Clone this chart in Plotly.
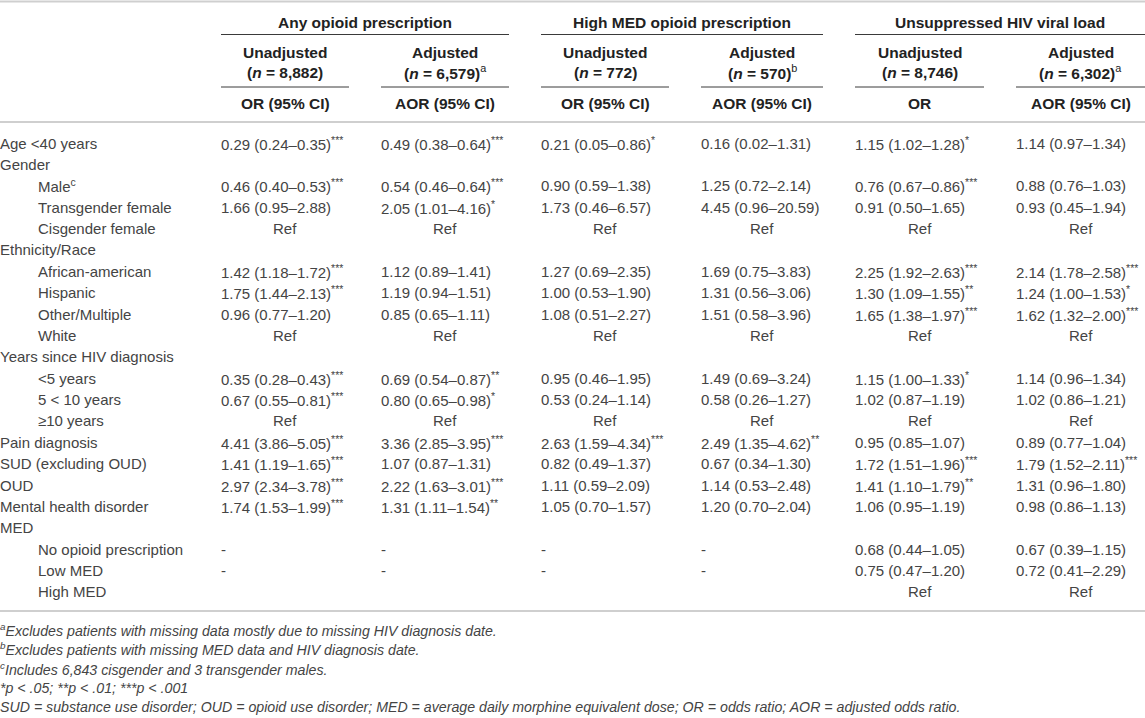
import plotly.graph_objects as go

# ---- table content ----
group_titles = ["Any opioid prescription", "High MED opioid prescription", "Unsuppressed HIV viral load"]
sub_titles = ["Unadjusted", "Adjusted", "Unadjusted", "Adjusted", "Unadjusted", "Adjusted"]
sample_sizes = ["8,882", "6,579", "772", "570", "8,746", "6,302"]
size_notes = ["", "a", "", "b", "", "a"]
stat_labels = ["OR (95% CI)", "AOR (95% CI)", "OR (95% CI)", "AOR (95% CI)", "OR", "AOR (95% CI)"]

row_labels = [
    "Age <40 years", "Gender", "Male", "Transgender female", "Cisgender female",
    "Ethnicity/Race", "African-american", "Hispanic", "Other/Multiple", "White",
    "Years since HIV diagnosis", "<5 years", "5 < 10 years", "≥10 years",
    "Pain diagnosis", "SUD (excluding OUD)", "OUD", "Mental health disorder",
    "MED", "No opioid prescription", "Low MED", "High MED",
]
sub_rows = [
    "Male", "Transgender female", "Cisgender female",
    "African-american", "Hispanic", "Other/Multiple", "White",
    "<5 years", "5 < 10 years", "≥10 years",
    "No opioid prescription", "Low MED", "High MED",
]
label_notes = {"Male": "c"}

any_unadj = [
    "0.29 (0.24–0.35)***", "", "0.46 (0.40–0.53)***", "1.66 (0.95–2.88)", "Ref",
    "", "1.42 (1.18–1.72)***", "1.75 (1.44–2.13)***", "0.96 (0.77–1.20)", "Ref",
    "", "0.35 (0.28–0.43)***", "0.67 (0.55–0.81)***", "Ref",
    "4.41 (3.86–5.05)***", "1.41 (1.19–1.65)***", "2.97 (2.34–3.78)***", "1.74 (1.53–1.99)***",
    "", "-", "-", "",
]
any_adj = [
    "0.49 (0.38–0.64)***", "", "0.54 (0.46–0.64)***", "2.05 (1.01–4.16)*", "Ref",
    "", "1.12 (0.89–1.41)", "1.19 (0.94–1.51)", "0.85 (0.65–1.11)", "Ref",
    "", "0.69 (0.54–0.87)**", "0.80 (0.65–0.98)*", "Ref",
    "3.36 (2.85–3.95)***", "1.07 (0.87–1.31)", "2.22 (1.63–3.01)***", "1.31 (1.11–1.54)**",
    "", "-", "-", "",
]
high_unadj = [
    "0.21 (0.05–0.86)*", "", "0.90 (0.59–1.38)", "1.73 (0.46–6.57)", "Ref",
    "", "1.27 (0.69–2.35)", "1.00 (0.53–1.90)", "1.08 (0.51–2.27)", "Ref",
    "", "0.95 (0.46–1.95)", "0.53 (0.24–1.14)", "Ref",
    "2.63 (1.59–4.34)***", "0.82 (0.49–1.37)", "1.11 (0.59–2.09)", "1.05 (0.70–1.57)",
    "", "-", "-", "",
]
high_adj = [
    "0.16 (0.02–1.31)", "", "1.25 (0.72–2.14)", "4.45 (0.96–20.59)", "Ref",
    "", "1.69 (0.75–3.83)", "1.31 (0.56–3.06)", "1.51 (0.58–3.96)", "Ref",
    "", "1.49 (0.69–3.24)", "0.58 (0.26–1.27)", "Ref",
    "2.49 (1.35–4.62)**", "0.67 (0.34–1.30)", "1.14 (0.53–2.48)", "1.20 (0.70–2.04)",
    "", "-", "-", "",
]
vl_unadj = [
    "1.15 (1.02–1.28)*", "", "0.76 (0.67–0.86)***", "0.91 (0.50–1.65)", "Ref",
    "", "2.25 (1.92–2.63)***", "1.30 (1.09–1.55)**", "1.65 (1.38–1.97)***", "Ref",
    "", "1.15 (1.00–1.33)*", "1.02 (0.87–1.19)", "Ref",
    "0.95 (0.85–1.07)", "1.72 (1.51–1.96)***", "1.41 (1.10–1.79)**", "1.06 (0.95–1.19)",
    "", "0.68 (0.44–1.05)", "0.75 (0.47–1.20)", "Ref",
]
vl_adj = [
    "1.14 (0.97–1.34)", "", "0.88 (0.76–1.03)", "0.93 (0.45–1.94)", "Ref",
    "", "2.14 (1.78–2.58)***", "1.24 (1.00–1.53)*", "1.62 (1.32–2.00)***", "Ref",
    "", "1.14 (0.96–1.34)", "1.02 (0.86–1.21)", "Ref",
    "0.89 (0.77–1.04)", "1.79 (1.52–2.11)***", "1.31 (0.96–1.80)", "0.98 (0.86–1.13)",
    "", "0.67 (0.39–1.15)", "0.72 (0.41–2.29)", "Ref",
]
columns = [any_unadj, any_adj, high_unadj, high_adj, vl_unadj, vl_adj]

footnotes = [
    ("a", "Excludes patients with missing data mostly due to missing HIV diagnosis date."),
    ("b", "Excludes patients with missing MED data and HIV diagnosis date."),
    ("c", "Includes 6,843 cisgender and 3 transgender males."),
    ("", "*p < .05; **p < .01; ***p < .001"),
    ("", "SUD = substance use disorder; OUD = opioid use disorder; MED = average daily morphine equivalent dose; OR = odds ratio; AOR = adjusted odds ratio."),
]

# ---- layout (page units on the axes) ----
W, H = 1145, 718
col_left = [221, 381, 541, 701, 855, 1016]
col_right = [349, 509, 669, 823, 984, 1145]
indent = 38
y_group, y_group_line = 22, 34.5
y_sub, y_n, y_sub_line, y_stat = 52, 72, 87, 103
y_top, y_head_rule, y_bottom = 1.5, 122, 611
row_y0, row_step = 143, 21.38
foot_y0, foot_step = 630, 19.3

FONT = "Liberation Sans, Arial, Helvetica, sans-serif"
BODY = "#444444"
HEAD = "#222222"
RULE_LIGHT = "#cfcfcf"
RULE_DARK = "#3a3a3a"


def esc(s):
    return s.replace("<", "&lt;").replace(">", "&gt;")


def cell_html(s):
    stars = len(s) - len(s.rstrip("*"))
    core = esc(s.rstrip("*"))
    return core + (f"<sup>{'*' * stars}</sup>" if stars else "")


def italic_p(s):
    return esc(s).replace("p &lt;", "<i>p</i> &lt;")


fig = go.Figure()
ann = dict(xref="x", yref="y", showarrow=False, yanchor="middle", borderpad=0, borderwidth=0)

# horizontal rules
for y in (y_top, y_head_rule, y_bottom):
    fig.add_shape(type="line", xref="x", yref="y", x0=0, x1=W, y0=y, y1=y,
                  line=dict(color=RULE_LIGHT, width=2))
for g in range(3):
    fig.add_shape(type="line", xref="x", yref="y", x0=col_left[2 * g], x1=col_right[2 * g + 1],
                  y0=y_group_line, y1=y_group_line, line=dict(color=RULE_DARK, width=1))
for c in range(6):
    fig.add_shape(type="line", xref="x", yref="y", x0=col_left[c], x1=col_right[c],
                  y0=y_sub_line, y1=y_sub_line, line=dict(color=RULE_DARK, width=1))

# header text
head_font = dict(family=FONT, size=15.5, color=HEAD)
for g, title in enumerate(group_titles):
    xc = (col_left[2 * g] + col_right[2 * g + 1]) / 2
    fig.add_annotation(x=xc, y=y_group, text=f"<b>{title}</b>", xanchor="center", font=head_font, **ann)
for c in range(6):
    xc = (col_left[c] + col_right[c]) / 2
    fig.add_annotation(x=xc, y=y_sub, text=f"<b>{sub_titles[c]}</b>", xanchor="center", font=head_font, **ann)
    note = f"<sup>{size_notes[c]}</sup>" if size_notes[c] else ""
    fig.add_annotation(x=xc, y=y_n, text=f"<b>(<i>n</i> = {sample_sizes[c]})</b>{note}",
                       xanchor="center", font=head_font, **ann)
    fig.add_annotation(x=xc, y=y_stat, text=f"<b>{stat_labels[c]}</b>", xanchor="center", font=head_font, **ann)

# body
body_font = dict(family=FONT, size=15, color=BODY)
for r, label in enumerate(row_labels):
    y = row_y0 + r * row_step
    x = indent if label in sub_rows else 0
    txt = esc(label) + (f"<sup>{label_notes[label]}</sup>" if label in label_notes else "")
    fig.add_annotation(x=x, y=y, text=txt, xanchor="left", font=body_font, **ann)
    for c, col in enumerate(columns):
        val = col[r]
        if not val:
            continue
        if val == "Ref":
            fig.add_annotation(x=(col_left[c] + col_right[c]) / 2, y=y, text=val,
                               xanchor="center", font=body_font, **ann)
        else:
            fig.add_annotation(x=col_left[c], y=y, text=cell_html(val),
                               xanchor="left", font=body_font, **ann)

# footnotes
foot_font = dict(family=FONT, size=14.2, color=BODY)
for k, (mark, text) in enumerate(footnotes):
    pre = f"<sup>{mark}</sup>" if mark else ""
    fig.add_annotation(x=0, y=foot_y0 + k * foot_step, text=f"<i>{pre}{italic_p(text)}</i>",
                       xanchor="left", font=foot_font, **ann)

fig.update_xaxes(range=[0, W], visible=False, fixedrange=True)
fig.update_yaxes(range=[H, 0], visible=False, fixedrange=True)
fig.update_layout(
    width=W, height=H,
    margin=dict(l=0, r=0, t=0, b=0),
    paper_bgcolor="white", plot_bgcolor="white",
    showlegend=False,
)

# the page body has a default 8px margin; drop it so the table sits flush like the reference
fig.write_html(
    "out.html",
    config={"displayModeBar": False},
    post_script="document.body.style.margin='0';document.body.style.overflow='hidden';",
)
